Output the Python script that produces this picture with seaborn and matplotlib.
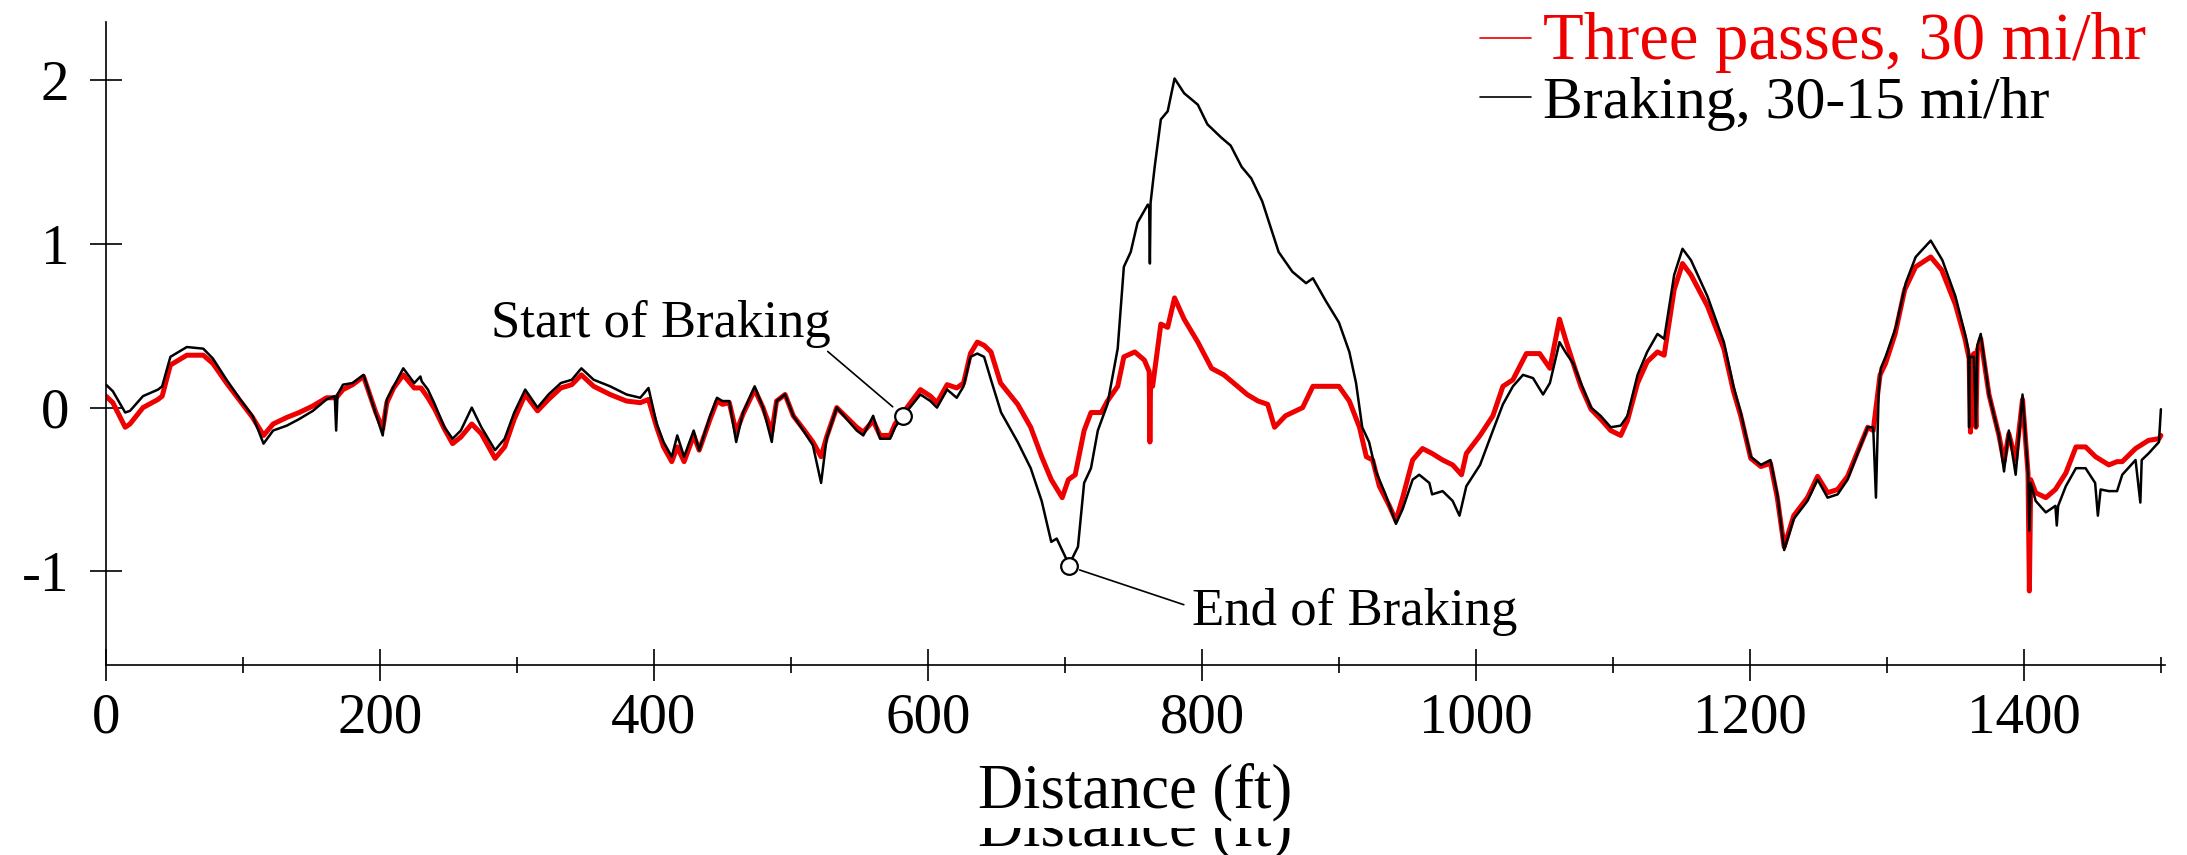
import numpy as np
import pandas as pd
import matplotlib
matplotlib.use("Agg")
import matplotlib.pyplot as plt
import seaborn as sns
from matplotlib.ticker import MultipleLocator, FixedLocator
from matplotlib.transforms import Bbox, TransformedBbox

# ---------------- data ----------------
red_label = "Three passes, 30 mi/hr"
black_label = "Braking, 30-15 mi/hr"

red_ft = [0, 5, 14, 17.5, 27, 38, 41, 47, 59, 71, 78, 88, 98, 107, 115, 122, 132, 141, 151, 161,
          168, 173, 180, 188, 197, 202, 205, 210, 217, 225, 230, 235, 240, 247, 253, 259, 267, 274,
          284, 291, 298, 306, 315, 323, 332, 340, 347, 356, 368, 380, 390, 396, 402, 407, 413, 417,
          422, 429, 433, 441, 446, 450, 455, 460, 465, 473.5, 479.6, 486, 489.5, 495.7, 501.7, 509,
          516, 522, 526, 533.4, 540.7, 548, 552.8, 560, 565, 572.4, 576, 582, 594.5, 601.8, 606.6,
          614, 621, 626, 631, 636, 641, 646, 653, 665.5, 675, 683, 690, 698, 702.5, 707.5, 714, 719,
          726.5, 731, 738.5, 743, 751, 758, 761.5, 762, 762.5, 764, 770, 775, 780, 787, 797, 807,
          816, 826, 833, 841, 848, 853, 861, 866, 873.5, 881, 890.5, 900, 907.6, 915, 920, 924.6,
          929.5, 936.8, 941.6, 946.5, 953.8, 961, 968, 975.7, 983, 989.5, 993, 1003, 1012.4, 1019.7,
          1027, 1036.8, 1046.5, 1054, 1061, 1066, 1073, 1076.6, 1084, 1091, 1098.4, 1105.7, 1110.6,
          1118, 1125, 1132.5, 1137.4, 1144.7, 1150.8, 1157, 1169, 1181, 1188, 1193.3, 1200.6, 1208,
          1215, 1220, 1225, 1232, 1242, 1249.4, 1256.7, 1264, 1271.3, 1278.6, 1286, 1290, 1295,
          1299, 1306, 1313, 1321, 1332, 1340, 1350, 1357, 1360, 1361, 1362, 1363.5, 1365, 1366,
          1368.5, 1374.5, 1381.8, 1385.5, 1389, 1394, 1399, 1403, 1404, 1405, 1408.6, 1416, 1423,
          1430.6, 1438, 1445, 1452.3, 1462, 1468, 1471.8, 1481.5, 1491, 1498.6, 1500]
red_val = [0.07, 0.03, -0.12, -0.10, 0.0, 0.05, 0.07, 0.26, 0.32, 0.32, 0.27, 0.15, 0.04, -0.06,
           -0.17, -0.10, -0.06, -0.03, 0.01, 0.06, 0.06, 0.11, 0.14, 0.19, -0.03, -0.13, 0.03, 0.12,
           0.20, 0.12, 0.12, 0.06, -0.01, -0.13, -0.22, -0.18, -0.10, -0.16, -0.31, -0.24, -0.07,
           0.08, -0.02, 0.05, 0.12, 0.14, 0.20, 0.13, 0.08, 0.04, 0.03, 0.05, -0.12, -0.24, -0.33,
           -0.24, -0.33, -0.17, -0.26, -0.07, 0.04, 0.02, 0.03, -0.15, -0.04, 0.11, 0.0, -0.15, 0.04,
           0.08, -0.05, -0.13, -0.21, -0.30, -0.18, 0.0, -0.06, -0.12, -0.15, -0.08, -0.17, -0.17,
           -0.10, -0.03, 0.11, 0.07, 0.03, 0.14, 0.12, 0.15, 0.33, 0.40, 0.38, 0.34, 0.15, 0.02,
           -0.12, -0.30, -0.44, -0.55, -0.44, -0.41, -0.14, -0.03, -0.03, 0.04, 0.13, 0.31, 0.34,
           0.29, 0.22, -0.21, 0.15, 0.13, 0.51, 0.49, 0.67, 0.54, 0.40, 0.24, 0.20, 0.13, 0.08, 0.04,
           0.02, -0.12, -0.05, -0.03, 0.0, 0.13, 0.13, 0.13, 0.04, -0.12, -0.30, -0.32, -0.48, -0.60,
           -0.69, -0.55, -0.32, -0.25, -0.28, -0.32, -0.35, -0.41, -0.28, -0.17, -0.05, 0.13, 0.17,
           0.33, 0.33, 0.24, 0.54, 0.40, 0.22, 0.13, -0.01, -0.07, -0.14, -0.17, -0.08, 0.15, 0.28,
           0.34, 0.32, 0.72, 0.88, 0.81, 0.62, 0.36, 0.10, -0.05, -0.31, -0.36, -0.34, -0.55, -0.85,
           -0.66, -0.55, -0.42, -0.52, -0.50, -0.42, -0.27, -0.12, -0.14, 0.20, 0.27, 0.45, 0.72,
           0.86, 0.92, 0.84, 0.63, 0.42, 0.30, -0.15, 0.30, 0.33, -0.12, 0.35, 0.42, 0.08, -0.17,
           -0.33, -0.16, -0.32, 0.05, -0.40, -1.12, -0.44, -0.52, -0.55, -0.50, -0.40, -0.24, -0.24,
           -0.30, -0.35, -0.33, -0.33, -0.25, -0.20, -0.19, -0.17]

black_ft = [0, 5, 14, 17.5, 27, 38, 41, 47, 59, 71, 78, 88, 98, 107, 115, 122, 132, 141, 151, 161,
            167, 168, 169, 173, 180, 188, 197, 202, 205, 210, 217, 225, 229.5, 230.5, 235, 240, 247,
            253, 259, 267, 274, 284, 291, 298, 306, 315, 323, 332, 340, 347, 356, 368, 380, 390, 396,
            402, 407, 413, 417, 422, 429, 433, 441, 446, 450, 455, 460, 465, 473.5, 479.6, 486,
            489.5, 495.7, 501.7, 509, 516, 522, 526, 533.4, 540.7, 548, 552.8, 560, 565, 572.4, 576,
            582, 594.5, 601.8, 606.6, 614, 621, 626, 631, 636, 641, 646, 653.4, 665.5, 675, 683, 690,
            694, 703, 709.5, 714, 719, 724, 731, 738.5, 743, 748, 753, 760.5, 761.5, 762, 762.5,
            765.5, 770, 775, 780, 787, 797, 804, 814, 821, 829, 836, 844, 851, 856, 866, 876, 881,
            890.5, 900, 907.6, 912.5, 917, 922, 927, 934, 941.6, 946.5, 953.8, 958.6, 966, 968,
            975.7, 983, 988, 993, 1003, 1012.4, 1019.7, 1027, 1034.4, 1041.7, 1049, 1054, 1061, 1066,
            1071, 1076.6, 1084, 1091, 1098.4, 1105.7, 1110.6, 1118, 1125, 1132.5, 1137.4, 1144.7,
            1150.8, 1157, 1169, 1181, 1188, 1193.3, 1200.6, 1208, 1215, 1220, 1225, 1232, 1242,
            1249.4, 1256.7, 1264, 1271.3, 1278.6, 1286, 1290, 1292, 1294, 1295.5, 1299, 1306.5,
            1313.7, 1321, 1332, 1340.5, 1350, 1357, 1359.5, 1360, 1360.5, 1363.5, 1365, 1366, 1368.5,
            1374.5, 1381.8, 1385.5, 1389, 1394, 1399, 1403, 1404, 1405, 1408.6, 1416, 1423, 1424,
            1425, 1430.6, 1438, 1445, 1452, 1454, 1456, 1462, 1468, 1471.8, 1481.5, 1485, 1486,
            1491, 1498.6, 1500]
black_val = [0.14, 0.10, -0.03, -0.02, 0.07, 0.11, 0.13, 0.31, 0.37, 0.36, 0.30, 0.17, 0.05, -0.05,
             -0.22, -0.14, -0.11, -0.07, -0.02, 0.05, 0.07, -0.14, 0.08, 0.14, 0.15, 0.20, -0.04,
             -0.17, 0.05, 0.13, 0.24, 0.15, 0.19, 0.16, 0.11, 0.02, -0.12, -0.19, -0.14, 0.0, -0.12,
             -0.26, -0.19, -0.03, 0.11, 0.0, 0.08, 0.15, 0.17, 0.24, 0.17, 0.13, 0.08, 0.06, 0.12,
             -0.10, -0.21, -0.30, -0.17, -0.30, -0.14, -0.26, -0.05, 0.06, 0.04, 0.04, -0.21, -0.03,
             0.13, 0.0, -0.21, 0.04, 0.08, -0.05, -0.14, -0.23, -0.46, -0.19, 0.0, -0.07, -0.14,
             -0.17, -0.05, -0.19, -0.19, -0.12, -0.05, 0.08, 0.04, 0.0, 0.11, 0.06, 0.13, 0.31, 0.33,
             0.31, 0.17, -0.03, -0.21, -0.37, -0.57, -0.82, -0.80, -0.96, -0.85, -0.46, -0.37, -0.14,
             0.02, 0.36, 0.86, 0.95, 1.13, 1.24, 1.22, 0.88, 1.25, 1.47, 1.76, 1.81, 2.01, 1.92, 1.85,
             1.73, 1.65, 1.60, 1.47, 1.40, 1.26, 1.08, 0.95, 0.83, 0.76, 0.79, 0.65, 0.52, 0.34,
             0.15, -0.12, -0.21, -0.39, -0.53, -0.71, -0.62, -0.44, -0.41, -0.46, -0.53, -0.51,
             -0.57, -0.66, -0.48, -0.35, -0.14, 0.02, 0.13, 0.20, 0.18, 0.08, 0.15, 0.40, 0.33, 0.27,
             0.15, 0.0, -0.05, -0.12, -0.11, -0.05, 0.20, 0.34, 0.45, 0.42, 0.81, 0.97, 0.90, 0.68,
             0.40, 0.13, -0.03, -0.30, -0.35, -0.32, -0.53, -0.87, -0.68, -0.57, -0.44, -0.55, -0.53,
             -0.44, -0.28, -0.12, -0.12, -0.55, 0.10, 0.24, 0.31, 0.49, 0.76, 0.92, 1.02, 0.90, 0.68,
             0.45, 0.35, -0.12, 0.31, 0.31, -0.12, 0.38, 0.45, 0.08, -0.17, -0.39, -0.14, -0.41,
             0.08, -0.40, -0.75, -0.46, -0.57, -0.64, -0.60, -0.72, -0.60, -0.48, -0.37, -0.37,
             -0.46, -0.66, -0.50, -0.51, -0.51, -0.41, -0.32, -0.58, -0.32, -0.28, -0.21, -0.01]

start_point = (582, -0.05)
end_point = (703, -0.97)
x_ticks = [0, 200, 400, 600, 800, 1000, 1200, 1400]
y_ticks = [-1, 0, 1, 2]

# ---------------- style ----------------
sns.set_style("ticks")
plt.rcParams["font.family"] = ["Liberation Serif", "DejaVu Serif"]
plt.rcParams["axes.unicode_minus"] = False
for key in ["text.color", "axes.labelcolor", "xtick.color", "ytick.color", "axes.edgecolor"]:
    plt.rcParams[key] = "black"

RED = "#ee0000"
W, H = 2187, 855
fig = plt.figure(figsize=(W / 100, H / 100), dpi=100)
ax = fig.add_axes([106 / W, 1 - 665 / H, (2165 - 106) / W, (665 - 22) / H])

red_df = pd.DataFrame({"Distance (ft)": red_ft, "value": red_val})
black_df = pd.DataFrame({"Distance (ft)": black_ft, "value": black_val})
sns.lineplot(data=red_df, x="Distance (ft)", y="value", sort=False, estimator=None,
             color=RED, linewidth=3.6, label=red_label, ax=ax, zorder=2)
sns.lineplot(data=black_df, x="Distance (ft)", y="value", sort=False, estimator=None,
             color="black", linewidth=1.8, label=black_label, ax=ax, zorder=3)

# braking markers
ax.plot([start_point[0], end_point[0]], [start_point[1], end_point[1]], linestyle="none",
        marker="o", markersize=12, markerfacecolor="white", markeredgecolor="black",
        markeredgewidth=1.6, zorder=5)

ax.annotate("Start of Braking", xy=start_point, xytext=(281, 0.43), fontsize=38,
            ha="left", va="baseline", color="black",
            arrowprops=dict(arrowstyle="-", color="black", lw=1.2, shrinkA=0, shrinkB=10,
                            relpos=(0.96, 0.12)))
ax.annotate("End of Braking", xy=end_point, xytext=(793, -1.33), fontsize=38,
            ha="left", va="baseline", color="black",
            arrowprops=dict(arrowstyle="-", color="black", lw=1.2, shrinkA=4, shrinkB=8,
                            relpos=(0.0, 0.6)))

ax.set_xlim(0, 1503)
ax.set_ylim(-1.572, 2.355)
ax.xaxis.set_major_locator(FixedLocator(x_ticks))
ax.xaxis.set_minor_locator(MultipleLocator(100))
ax.yaxis.set_major_locator(FixedLocator(y_ticks))
ax.tick_params(axis="both", which="major", direction="inout", length=23, width=1.2,
               labelsize=41, color="black", labelcolor="black")
ax.tick_params(axis="x", which="minor", direction="inout", length=11, width=1.2)
ax.tick_params(axis="x", which="major", pad=8)
ax.tick_params(axis="y", which="major", pad=15)
for s in ["top", "right"]:
    ax.spines[s].set_visible(False)
for s in ["left", "bottom"]:
    ax.spines[s].set_linewidth(1.2)
    ax.spines[s].set_color("black")
ax.set_ylabel("")

ax.set_xlabel("Distance (ft)", fontsize=45, color="black")
ax.xaxis.set_label_coords(0.5, (665 - 807) / (665 - 22))
ax.xaxis.label.set_va("baseline")

# clipped duplicate of the axis title seen at the very bottom of the reference
dup = fig.text((106 + 2165) / 2 / W, (H - 845) / H, "Distance (ft)", fontsize=45,
               ha="center", va="baseline", color="black")
dup.set_clip_box(TransformedBbox(Bbox([[0, 0], [1, (H - 828) / H]]), fig.transFigure))
dup.set_clip_on(True)

leg = ax.legend(loc="upper left", bbox_to_anchor=(1480 / W, 1 - 12 / H),
                bbox_transform=fig.transFigure, frameon=False, fontsize=43,
                handlelength=0.85, handletextpad=0.2, labelspacing=0.05,
                borderpad=0, borderaxespad=0)
for ln in leg.get_lines():
    ln.set_linewidth(1.2)
texts = leg.get_texts()
texts[0].set_color(RED)
texts[0].set_fontsize(48)
texts[1].set_color("black")

fig.savefig("out.png", dpi=100, facecolor="white")
